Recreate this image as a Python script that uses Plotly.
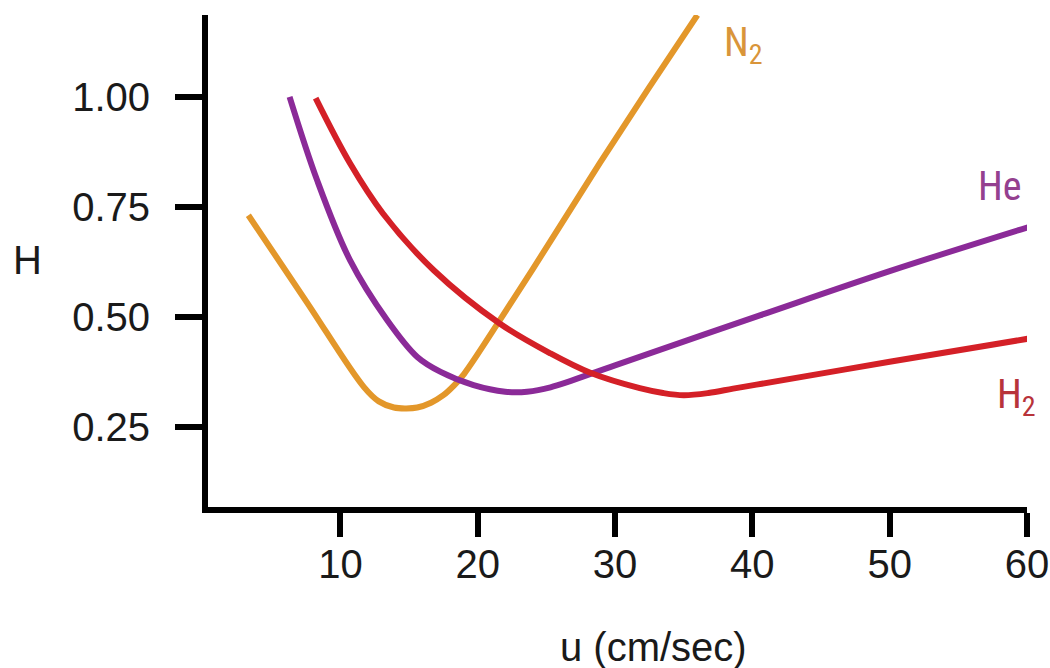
import plotly.graph_objects as go

# Plate height H versus carrier-gas linear velocity u (van Deemter curves)
n2_u = [3.3, 7.5, 11.7, 12.8, 13.9, 14.8, 15.6, 16.6, 17.5, 18.3, 19.0, 21.6, 25.3, 28.9, 32.5, 36.0]
n2_h = [0.731, 0.536, 0.341, 0.308, 0.294, 0.292, 0.294, 0.305, 0.322, 0.345, 0.370, 0.492, 0.672, 0.850, 1.022, 1.186]

he_u = [6.3, 8.3, 10.7, 13.4, 15.6, 17.3, 19.7, 22.0, 23.6, 25.3, 30.0, 40.6, 50.0, 60.2]
he_h = [1.000, 0.811, 0.629, 0.493, 0.409, 0.375, 0.345, 0.330, 0.330, 0.340, 0.390, 0.504, 0.604, 0.705]

h2_u = [8.2, 10.7, 13.1, 16.8, 21.6, 25.3, 28.2, 31.8, 33.5, 35.0, 36.8, 38.6, 40.3, 50.0, 60.2]
h2_h = [0.997, 0.849, 0.735, 0.606, 0.485, 0.417, 0.373, 0.338, 0.327, 0.322, 0.327, 0.337, 0.346, 0.398, 0.451]

x_ticks = [10, 20, 30, 40, 50, 60]
y_ticks = [0.25, 0.50, 0.75, 1.00]
y_tick_text = ["0.25", "0.50", "0.75", "1.00"]

ORANGE = "#E3972A"
PURPLE = "#8B2A98"
RED = "#D42027"

fig = go.Figure()
for u, h, c in [(n2_u, n2_h, ORANGE), (he_u, he_h, PURPLE), (h2_u, h2_h, RED)]:
    fig.add_trace(go.Scatter(
        x=u, y=h, mode="lines",
        line=dict(color=c, width=6, shape="spline", smoothing=1.0),
        showlegend=False, hoverinfo="skip", cliponaxis=False,
    ))

label_font = "Liberation Sans Narrow, Roboto Condensed, Liberation Sans, Arial"
gas_labels = [
    ("N<sub>2</sub>", 37.8, 1.118, "#D9953A"),
    ("He", 56.3, 0.797, "#94408F"),
    ("H<sub>2</sub>", 57.7, 0.318, "#B8333A"),
]
for text, x, y, c in gas_labels:
    fig.add_annotation(
        x=x, y=y, xref="x", yref="y", text=text, showarrow=False,
        xanchor="left", yanchor="middle",
        font=dict(family=label_font, size=40, color=c),
    )

tick_font = dict(family="Liberation Sans, Arial", size=40, color="#1a1a1a")

fig.add_annotation(
    x=-0.221, y=0.629, xref="paper", yref="y", text="H", showarrow=False,
    xanchor="center", yanchor="middle", font=tick_font,
)
fig.add_annotation(
    x=0.5434, y=-0.284, xref="paper", yref="paper", text="u (cm/sec)",
    showarrow=False, xanchor="center", yanchor="middle", font=tick_font,
)

fig.update_xaxes(
    range=[0.36, 60], tickvals=x_ticks, ticktext=[str(v) for v in x_ticks],
    showline=True, linecolor="black", linewidth=6,
    ticks="outside", ticklen=24, tickwidth=6, tickcolor="black",
    showgrid=False, zeroline=False, tickfont=tick_font,
    ticklabelstandoff=-7, automargin=False,
)
fig.update_yaxes(
    range=[0.068, 1.186], tickvals=y_ticks, ticktext=y_tick_text,
    showline=True, linecolor="black", linewidth=6,
    ticks="outside", ticklen=27, tickwidth=6, tickcolor="black",
    showgrid=False, zeroline=False, tickfont=tick_font,
    ticklabelstandoff=17, automargin=False,
)

fig.update_layout(
    width=1050, height=668,
    margin=dict(l=208, r=23, t=15, b=161),
    plot_bgcolor="white", paper_bgcolor="white",
)

fig.write_html("out.html")
